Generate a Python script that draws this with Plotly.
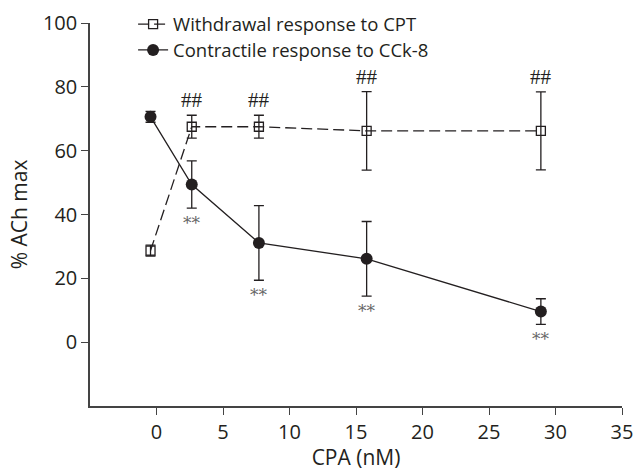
import plotly.graph_objects as go

cpa = [-0.45, 2.65, 7.7, 15.8, 28.9]
withdrawal = [28.7, 67.5, 67.5, 66.2, 66.2]
withdrawal_err = [1.7, 3.6, 3.6, 12.3, 12.2]
contractile = [70.6, 49.4, 31.1, 26.1, 9.6]
contractile_err = [1.7, 7.4, 11.7, 11.7, 4.0]
sig_idx = [1, 2, 3, 4]
withdrawal_mark = "##"
contractile_mark = "**"
x_ticks = [0, 5, 10, 15, 20, 25, 30, 35]
y_ticks = [0, 20, 40, 60, 80, 100]

ink = "#231f20"
font = "Open Sans"

fig = go.Figure()
fig.add_trace(go.Scatter(
    x=cpa, y=withdrawal, name="Withdrawal response to CPT",
    mode="lines+markers", legend="legend", showlegend=True,
    line=dict(color=ink, width=1.3, dash="11px,5px"),
    marker=dict(symbol="square-open", size=9, color=ink, line=dict(width=1.3, color=ink)),
    error_y=dict(type="data", array=withdrawal_err, color=ink, thickness=1.3, width=5),
))
fig.add_trace(go.Scatter(
    x=cpa, y=contractile, name="Contractile response to CCk-8",
    mode="lines+markers", legend="legend2", showlegend=True,
    line=dict(color=ink, width=1.3),
    marker=dict(symbol="circle", size=12, color=ink),
    error_y=dict(type="data", array=contractile_err, color=ink, thickness=1.3, width=5),
))

for i in sig_idx:
    fig.add_annotation(x=cpa[i], y=withdrawal[i] + withdrawal_err[i], text=withdrawal_mark,
                       showarrow=False, yshift=15, xref="x", yref="y",
                       font=dict(family="Liberation Serif", size=21, color=ink))
    fig.add_annotation(x=cpa[i], y=contractile[i] - contractile_err[i], text=contractile_mark,
                       showarrow=False, yshift=-15, xref="x", yref="y",
                       font=dict(family="DejaVu Serif", size=17, color="#666"))

axis_common = dict(
    showline=True, linecolor="#444", linewidth=1.5,
    ticks="outside", ticklen=7, tickwidth=1.3, tickcolor="#444",
    showgrid=False, zeroline=False,
    tickfont=dict(family=font, size=20, color=ink),
)
fig.update_xaxes(range=[-5, 35], tickvals=x_ticks,
                 title=dict(text="CPA (nM)", font=dict(family=font, size=21, color=ink), standoff=6),
                 **axis_common)
fig.update_yaxes(range=[-20, 100], tickvals=y_ticks,
                 title=dict(text="% ACh max", font=dict(family=font, size=21, color=ink), standoff=10),
                 **axis_common)

leg_common = dict(x=0.081, xanchor="left", yanchor="middle",
                  bgcolor="rgba(0,0,0,0)", borderwidth=0,
                  font=dict(family=font, size=18.5, color=ink),
                  itemwidth=30, tracegroupgap=0, visible=True)

fig.update_layout(
    width=634, height=471,
    margin=dict(l=90, r=12, t=23, b=65, autoexpand=False),
    plot_bgcolor="white", paper_bgcolor="white",
    font=dict(family=font, color=ink),
    showlegend=True,
    legend=dict(y=0.996, **leg_common),
    legend2=dict(y=0.9285, **leg_common),
)

fig.write_html("out.html", config={"displayModeBar": False},
               post_script="document.body.style.margin='0';")
